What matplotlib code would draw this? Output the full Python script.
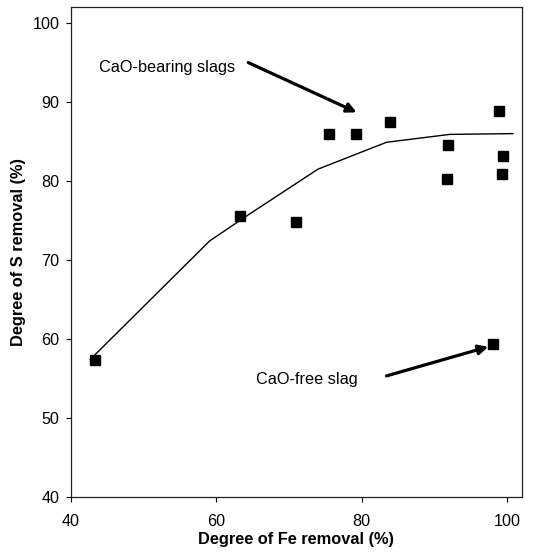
import matplotlib
matplotlib.use("Agg")
import matplotlib.pyplot as plt

plt.rcParams['font.family'] = ['Liberation Sans', 'DejaVu Sans']

# Measured points
fe_removal = [43.4, 63.3, 71.0, 75.5, 79.2, 83.9, 91.8, 91.7, 98.9, 99.4, 99.3, 98.1]
s_removal = [57.3, 75.6, 74.8, 85.9, 85.9, 87.5, 84.5, 80.2, 88.9, 83.2, 80.9, 59.3]

# Trend curve for the CaO-bearing slags
trend_x = [42.7, 59.1, 64.4, 74.0, 83.4, 92.1, 100.8]
trend_y = [57.4, 72.4, 75.7, 81.5, 84.9, 85.9, 86.0]

x_ticks = [40, 60, 80, 100]
y_ticks = [40, 50, 60, 70, 80, 90, 100]

fig = plt.figure(figsize=(5.42, 5.54), dpi=100)
ax = fig.add_axes([0.1304, 0.1034, 0.8322, 0.8834])

ax.plot(trend_x, trend_y, color='black', lw=1.0, zorder=2)
ax.plot(fe_removal, s_removal, linestyle='none', marker='s', markersize=6.5,
        color='black', zorder=3)

ax.set_xlim(40, 102)
ax.set_ylim(40, 102)
ax.set_xticks(x_ticks)
ax.set_yticks(y_ticks)
ax.tick_params(direction='out', length=3.6, width=0.8, labelsize=11.6,
               colors='black')
ax.tick_params(axis='x', pad=8.8)
ax.tick_params(axis='y', pad=4.5)
for side in ['left', 'bottom', 'right', 'top']:
    ax.spines[side].set_linewidth(0.9)
    ax.spines[side].set_color('#222222')

ax.set_xlabel('Degree of Fe removal (%)', fontsize=11.8, fontweight='bold', labelpad=2.5)
ax.set_ylabel('Degree of S removal (%)', fontsize=11.8, fontweight='bold', labelpad=4.5)

arrow = dict(arrowstyle='-|>', lw=2.3, color='black', mutation_scale=14,
             shrinkA=0, shrinkB=0)
ax.annotate('', xy=(79.3, 88.7), xytext=(64.4, 95.0), arrowprops=arrow)
ax.text(43.9, 94.4, 'CaO-bearing slags', fontsize=11.7, va='center', ha='left')

ax.annotate('', xy=(97.4, 59.0), xytext=(83.4, 55.3), arrowprops=arrow)
ax.text(65.5, 54.8, 'CaO-free slag', fontsize=11.7, va='center', ha='left')

fig.savefig('out.png', dpi=100)
